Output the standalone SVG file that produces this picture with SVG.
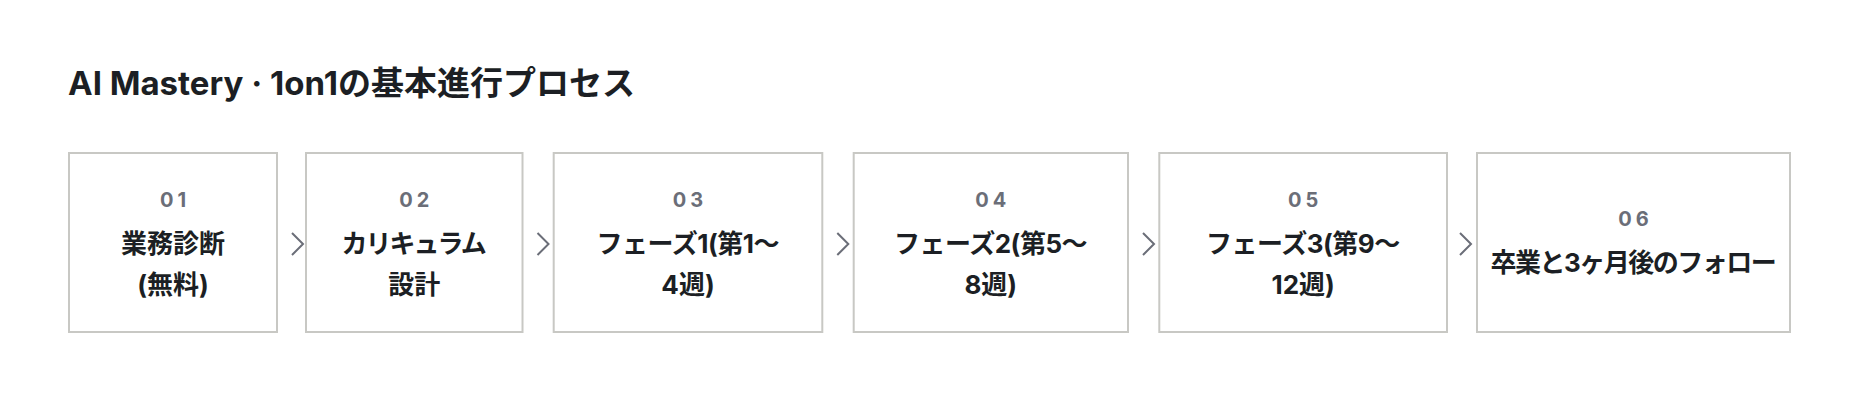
<svg xmlns="http://www.w3.org/2000/svg" width="1860" height="402" viewBox="0 0 1860 402">
<style>
text{font-family:Inter,"Noto Sans CJK JP","Noto Sans",sans-serif;}
.title{font-size:33px;font-weight:700;fill:#1c1f24;}
.box{fill:#ffffff;stroke:#c8c8c4;stroke-width:2;}
.num{font-size:20px;font-weight:700;fill:#6b6e78;letter-spacing:4px;text-anchor:middle;}
.lbl{font-size:26px;font-weight:700;fill:#1c1f24;text-anchor:middle;}
.kana{letter-spacing:-2px;}
.phase{letter-spacing:-0.5px;}
.grad{letter-spacing:-1.5px;}
.chev{fill:none;stroke:#6b6e78;stroke-width:2;}
</style>
<rect width="1860" height="402" fill="#ffffff"/>
<text class="title" x="68" y="95">AI Mastery · 1on1の基本進行プロセス</text>
<g id="step01">
<rect class="box" x="69" y="153" width="208" height="179"/>
<text class="num" x="175" y="207">01</text>
<text class="lbl" x="173" y="253">業務診断</text>
<text class="lbl" x="173" y="294">(無料)</text>
</g>
<g id="step02">
<rect class="box" x="306" y="153" width="216.5" height="179"/>
<text class="num" x="416.2" y="207">02</text>
<text class="lbl kana" x="413.2" y="253">カリキュラム</text>
<text class="lbl" x="414.2" y="294">設計</text>
</g>
<g id="step03">
<rect class="box" x="553.7" y="153" width="268.6" height="179"/>
<text class="num" x="690" y="207">03</text>
<text class="lbl phase" x="687.7" y="253">フェーズ1(第1〜</text>
<text class="lbl" x="688" y="294">4週)</text>
</g>
<g id="step04">
<rect class="box" x="853.7" y="153" width="274.3" height="179"/>
<text class="num" x="992.8" y="207">04</text>
<text class="lbl phase" x="990.5" y="253">フェーズ2(第5〜</text>
<text class="lbl" x="990.8" y="294">8週)</text>
</g>
<g id="step05">
<rect class="box" x="1159.3" y="153" width="287.7" height="179"/>
<text class="num" x="1305.2" y="207">05</text>
<text class="lbl phase" x="1302.9" y="253">フェーズ3(第9〜</text>
<text class="lbl" x="1303.2" y="294">12週)</text>
</g>
<g id="step06">
<rect class="box" x="1477" y="153" width="313" height="179"/>
<text class="num" x="1635.5" y="226">06</text>
<text class="lbl grad" x="1632.8" y="272">卒業と3ヶ月後のフォロー</text>
</g>
<g id="connectors">
<path class="chev" d="M292 233 L303 244 L292 255"/>
<path class="chev" d="M537.5 233 L548.5 244 L537.5 255"/>
<path class="chev" d="M837.3 233 L848.3 244 L837.3 255"/>
<path class="chev" d="M1143 233 L1154 244 L1143 255"/>
<path class="chev" d="M1460 233 L1471 244 L1460 255"/>
</g>
</svg>
